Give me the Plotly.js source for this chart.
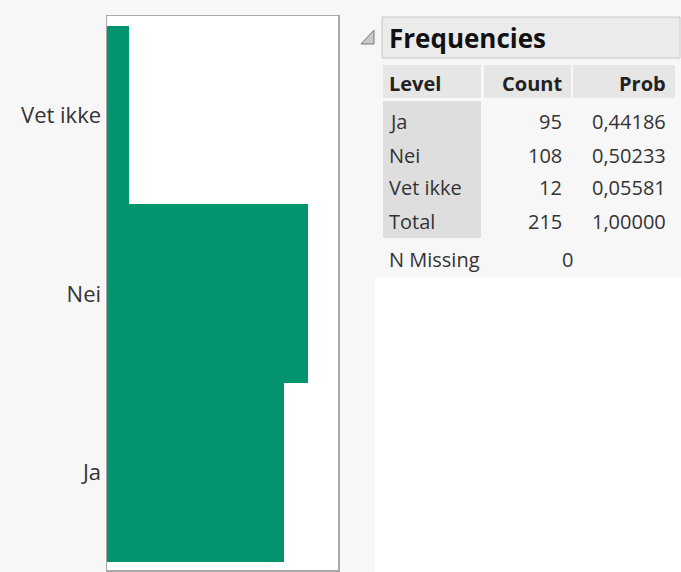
<!DOCTYPE html>
<html>
<head>
<meta charset="utf-8">
<script src="https://cdn.plot.ly/plotly-3.0.1.min.js"></script>
<style>html,body{margin:0;padding:0;background:#f7f7f7;}#chart{width:681px;height:572px;}</style>
</head>
<body>
<div id="chart"></div>
<script>
// Data
var levels = ['Ja', 'Nei', 'Vet ikke'];
var counts = [95, 108, 12];
var probs = [0.44186, 0.50233, 0.05581];
var totalLabel = 'Total';
var totalCount = 215;
var totalProb = 1.0;
var nMissing = 0;
var tableTitle = 'Frequencies';
var colHeaders = ['Level', 'Count', 'Prob'];

// Layout geometry (pixels)
var W = 681, H = 572;
var PL = 107, PR = 338, PT = 16, PB = 570;
function px(x) { return (x - PL) / (PR - PL); }
function py(y) { return (PB - y) / (PB - PT); }
function fmt(p) { return p.toFixed(5).replace('.', ','); }

var FONT = 'Open Sans, Noto Sans, sans-serif';
var green = '#01946f';

var trace = {
  type: 'bar',
  orientation: 'h',
  y: levels,
  x: counts,
  marker: {color: green, line: {width: 0}},
  hoverinfo: 'none'
};

var shapes = [];
var annotations = [];

// white region below the table
shapes.push({type: 'rect', xref: 'paper', yref: 'paper', layer: 'below',
  x0: px(375), x1: px(681), y0: py(278), y1: py(572),
  fillcolor: '#ffffff', line: {width: 0}});
// Frequencies header box
shapes.push({type: 'rect', xref: 'paper', yref: 'paper', layer: 'below',
  x0: px(382), x1: px(680), y0: py(17), y1: py(58),
  fillcolor: '#ebebeb', line: {color: '#c8c8c8', width: 1}});
// disclosure triangle
var tri = 'M ' + px(374) + ' ' + py(30) + ' L ' + px(374) + ' ' + py(44) + ' L ' + px(361) + ' ' + py(44) + ' Z';
shapes.push({type: 'path', xref: 'paper', yref: 'paper', path: tri,
  fillcolor: '#c8c8c8', line: {color: '#7a7a7a', width: 1}});
// column header cells
var hdrCells = [[383, 481], [484, 571], [573, 675]];
hdrCells.forEach(function (c) {
  shapes.push({type: 'rect', xref: 'paper', yref: 'paper', layer: 'below',
    x0: px(c[0]), x1: px(c[1]), y0: py(65), y1: py(98),
    fillcolor: '#e6e6e6', line: {width: 0}});
});
// level column cells
shapes.push({type: 'rect', xref: 'paper', yref: 'paper', layer: 'below',
  x0: px(383), x1: px(481), y0: py(101), y1: py(238),
  fillcolor: '#dedede', line: {width: 0}});

annotations.push({xref: 'paper', yref: 'paper', x: px(387), y: py(38),
  xanchor: 'left', yanchor: 'middle', showarrow: false, text: '<b>' + tableTitle + '</b>',
  font: {family: FONT, size: 26, color: '#111'}});
annotations.push({xref: 'paper', yref: 'paper', x: px(387), y: py(83),
  xanchor: 'left', yanchor: 'middle', showarrow: false, text: '<b>' + colHeaders[0] + '</b>',
  font: {family: FONT, size: 20, color: '#222'}});
annotations.push({xref: 'paper', yref: 'paper', x: px(564), y: py(83),
  xanchor: 'right', yanchor: 'middle', showarrow: false, text: '<b>' + colHeaders[1] + '</b>',
  font: {family: FONT, size: 20, color: '#222'}});
annotations.push({xref: 'paper', yref: 'paper', x: px(668), y: py(83),
  xanchor: 'right', yanchor: 'middle', showarrow: false, text: '<b>' + colHeaders[2] + '</b>',
  font: {family: FONT, size: 20, color: '#222'}});

var rowLabels = levels.concat([totalLabel]);
var rowCounts = counts.concat([totalCount]);
var rowProbs = probs.concat([totalProb]);
var rowY = [121, 155, 188, 221];
for (var i = 0; i < rowLabels.length; i++) {
  annotations.push({xref: 'paper', yref: 'paper', x: px(387), y: py(rowY[i]),
    xanchor: 'left', yanchor: 'middle', showarrow: false, text: rowLabels[i],
    font: {family: FONT, size: 20, color: '#333'}});
  annotations.push({xref: 'paper', yref: 'paper', x: px(564), y: py(rowY[i]),
    xanchor: 'right', yanchor: 'middle', showarrow: false, text: String(rowCounts[i]),
    font: {family: FONT, size: 20, color: '#333'}});
  annotations.push({xref: 'paper', yref: 'paper', x: px(668), y: py(rowY[i]),
    xanchor: 'right', yanchor: 'middle', showarrow: false, text: fmt(rowProbs[i]),
    font: {family: FONT, size: 20, color: '#333'}});
}
annotations.push({xref: 'paper', yref: 'paper', x: px(387), y: py(259),
  xanchor: 'left', yanchor: 'middle', showarrow: false, text: 'N Missing',
  font: {family: FONT, size: 20, color: '#333'}});
annotations.push({xref: 'paper', yref: 'paper', x: px(575), y: py(259),
  xanchor: 'right', yanchor: 'middle', showarrow: false, text: String(nMissing),
  font: {family: FONT, size: 20, color: '#333'}});

var layout = {
  width: W, height: H,
  margin: {l: PL, r: W - PR, t: PT, b: H - PB, pad: 0},
  paper_bgcolor: '#f7f7f7',
  plot_bgcolor: '#ffffff',
  bargap: 0,
  showlegend: false,
  xaxis: {range: [0, 124], showticklabels: false, showgrid: false, zeroline: false,
    showline: true, mirror: true, linecolor: '#a8a8a8', linewidth: 1.5, ticks: '', fixedrange: true},
  yaxis: {type: 'category', categoryorder: 'array', categoryarray: levels,
    range: [-0.546, 2.555], showgrid: false, zeroline: false,
    showline: true, mirror: true, linecolor: '#a8a8a8', linewidth: 1.5, ticks: '',
    ticklabelstandoff: 0,
    tickfont: {family: FONT, size: 22, color: '#333'}, fixedrange: true},
  shapes: shapes,
  annotations: annotations
};

Plotly.newPlot('chart', [trace], layout, {displayModeBar: false, staticPlot: true});
</script>
</body>
</html>
